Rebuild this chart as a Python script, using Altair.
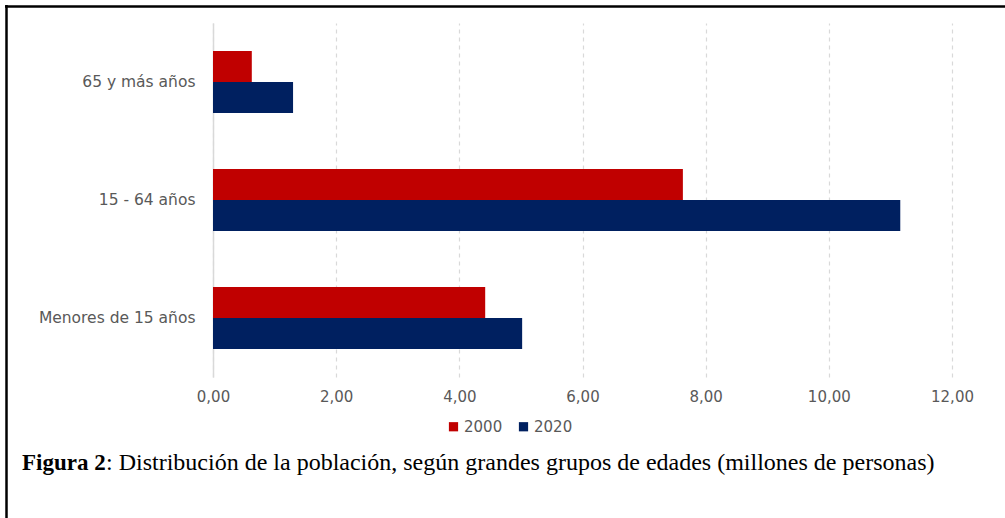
import altair as alt
import pandas as pd

# Population by broad age group, millions of people
grupos = ["65 y más años", "15 - 64 años", "Menores de 15 años"]
anios = ["2000", "2020"]
valores_2000 = [0.63, 7.63, 4.42]
valores_2020 = [1.30, 11.16, 5.02]
colores = ["#C00000", "#002060"]
ticks_x = [0, 2, 4, 6, 8, 10, 12]

caption_bold = "Figura 2"
caption_rest = ": Distribución de la población, según grandes grupos de edades (millones de personas)"

rows = []
for g, v0, v1 in zip(grupos, valores_2000, valores_2020):
    rows.append({"grupo": g, "anio": anios[0], "valor": v0})
    rows.append({"grupo": g, "anio": anios[1], "valor": v1})
df = pd.DataFrame(rows)

LABEL_FONT = "DejaVu Sans"
LABEL_COLOR = "#595959"
GRID_COLOR = "#D9D9D9"

PLOT_W, PLOT_H = 739, 354
LEFT, TOP = 213, 23

bars = alt.Chart(df).mark_bar().encode(
    x=alt.X(
        "valor:Q",
        scale=alt.Scale(domain=[0, 12], nice=False),
        axis=alt.Axis(
            values=ticks_x,
            labelExpr="replace(format(datum.value, '.2f'), '.', ',')",
            title=None,
            domain=False,
            ticks=False,
            grid=True,
            gridColor=GRID_COLOR,
            gridDash=[4, 4],
            gridWidth=1.2,
            labelFlush=False,
            labelFont=LABEL_FONT,
            labelFontSize=15,
            labelColor=LABEL_COLOR,
            labelPadding=12,
        ),
    ),
    y=alt.Y(
        "grupo:N",
        sort=grupos,
        scale=alt.Scale(paddingInner=0.475, paddingOuter=0.2375),
        axis=alt.Axis(
            title=None,
            ticks=False,
            domain=True,
            domainColor=GRID_COLOR,
            domainWidth=1.5,
            labelFont=LABEL_FONT,
            labelFontSize=15.5,
            labelColor=LABEL_COLOR,
            labelPadding=18,
        ),
    ),
    yOffset=alt.YOffset("anio:N", sort=anios, scale=alt.Scale(paddingInner=0, paddingOuter=0)),
    color=alt.Color(
        "anio:N",
        sort=anios,
        scale=alt.Scale(domain=anios, range=colores),
        legend=alt.Legend(
            title=None,
            orient="none",
            legendX=446 - LEFT,
            legendY=419 - TOP,
            direction="horizontal",
            symbolType="square",
            symbolSize=85,
            symbolStrokeWidth=0,
            labelFont=LABEL_FONT,
            labelFontSize=15,
            labelColor=LABEL_COLOR,
            labelOffset=3,
            columnPadding=13,
        ),
    ),
)

caption_df = pd.DataFrame({"t": [caption_bold]})
caption1 = alt.Chart(caption_df).mark_text(
    font="Liberation Serif", fontSize=23, fontWeight="bold", align="left",
    baseline="alphabetic", color="black",
).encode(text="t:N", x=alt.value(22 - LEFT), y=alt.value(470 - TOP))

caption_df2 = pd.DataFrame({"t": [caption_rest]})
caption2 = alt.Chart(caption_df2).mark_text(
    font="Liberation Serif", fontSize=24, align="left",
    baseline="alphabetic", color="black",
).encode(text="t:N", x=alt.value(22 - LEFT + 84), y=alt.value(470 - TOP))

# Outer frame: left and top edges
frame_left = alt.Chart(caption_df).mark_rule(color="black", strokeWidth=2.5).encode(
    x=alt.value(6.5 - LEFT), y=alt.value(5 - TOP), y2=alt.value(530 - TOP)
)
frame_top = alt.Chart(caption_df).mark_rule(color="black", strokeWidth=2.5).encode(
    x=alt.value(5 - LEFT), x2=alt.value(1010 - LEFT), y=alt.value(6.5 - TOP)
)

chart = alt.layer(bars, caption1, caption2, frame_left, frame_top).properties(
    width=PLOT_W,
    height=PLOT_H,
    autosize=alt.AutoSizeParams(type="none"),
    padding={"left": LEFT, "top": TOP, "right": 1005 - LEFT - PLOT_W, "bottom": 518 - TOP - PLOT_H},
    background="white",
).configure_view(stroke=None)

chart.save("out.html", embed_options={"renderer": "svg", "actions": False})
